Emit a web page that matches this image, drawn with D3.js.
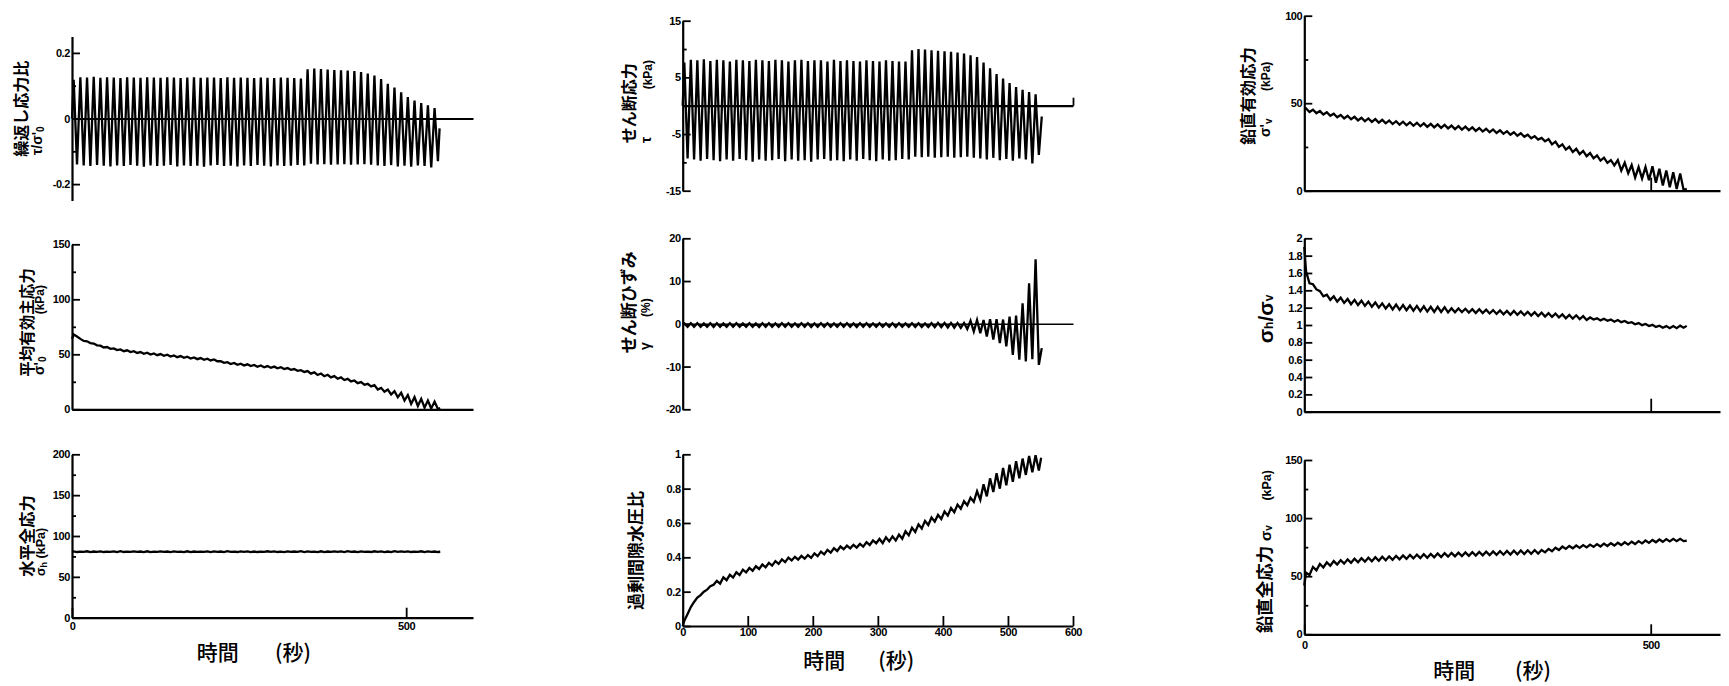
<!DOCTYPE html>
<html lang="ja">
<head>
<meta charset="UTF-8">
<title>繰返し載荷試験 時刻歴</title>
<style>
  body { margin: 0; background: #fff; }
  svg { display: block; background: #fff; }
  .tick text { font-family: "Liberation Sans", Arial, sans-serif; font-size: 11px; font-weight: bold; fill: #000; letter-spacing: -0.4px; }
  .ttl { font-family: "Liberation Sans", "Noto Sans CJK JP", sans-serif; font-weight: bold; fill: #000; }
  .xttl { font-family: "Noto Sans CJK JP", sans-serif; font-weight: 500; fill: #000; font-size: 21px; }
</style>
</head>
<body>
<svg width="1729" height="686"></svg>
<script src="https://d3js.org/d3.v7.min.js"></script>
<script>
// time of stress peak / trough in each load cycle (s)
const peakTime = [2.5,12.5,22.5,32.5,42.5,52.5,62.5,72.5,82.5,92.5,102.5,112.5,122.5,132.5,142.5,152.5,162.5,172.5,182.5,192.5,202.5,212.5,222.5,232.5,242.5,252.5,262.5,272.5,282.5,292.5,302.5,312.5,322.5,332.5,342.5,352.5,362.5,372.5,382.5,392.5,402.5,412.5,422.5,432.5,442.5,452.5,462.5,472.5,482.5,492.5,502.5,512.5,522.5,532.5,542.5];
const troughTime = [7.5,17.5,27.5,37.5,47.5,57.5,67.5,77.5,87.5,97.5,107.5,117.5,127.5,137.5,147.5,157.5,167.5,177.5,187.5,197.5,207.5,217.5,227.5,237.5,247.5,257.5,267.5,277.5,287.5,297.5,307.5,317.5,327.5,337.5,347.5,357.5,367.5,377.5,387.5,397.5,407.5,417.5,427.5,437.5,447.5,457.5,467.5,477.5,487.5,497.5,507.5,517.5,527.5,537.5,547.5];

// 繰返し応力比 τ/σ'0
const ratioStart = [0, 0], ratioEnd = [550, -0.03];
const ratioPk = [0.118,0.126,0.125,0.127,0.124,0.126,0.125,0.123,0.126,0.125,0.124,0.126,0.125,0.124,0.126,0.125,0.123,0.125,0.126,0.124,0.125,0.125,0.123,0.126,0.124,0.125,0.124,0.123,0.125,0.124,0.123,0.125,0.124,0.123,0.122,
  0.15,0.152,0.151,0.149,0.148,0.147,0.146,0.145,0.142,0.137,
  0.131,0.12,0.106,0.094,0.08,0.065,0.055,0.047,0.04,0.032];
const ratioTr = [-0.14,-0.143,-0.145,-0.142,-0.144,-0.146,-0.143,-0.145,-0.142,-0.144,-0.147,-0.143,-0.145,-0.144,-0.142,-0.146,-0.143,-0.145,-0.144,-0.147,-0.143,-0.142,-0.145,-0.144,-0.146,-0.143,-0.145,-0.142,-0.144,-0.146,-0.143,-0.145,-0.144,-0.142,-0.143,
  -0.138,-0.14,-0.139,-0.141,-0.14,-0.139,-0.141,-0.14,-0.139,-0.141,
  -0.143,-0.145,-0.142,-0.146,-0.144,-0.147,-0.143,-0.145,-0.149,-0.13];

// せん断応力 τ (kPa)
const tauStart = [0, 0], tauEnd = [552, -1.9];
const tauPk = [7.6,8.1,8.0,8.2,7.9,8.1,8.0,7.8,8.1,8.0,7.9,8.1,8.0,7.9,8.1,8.0,7.8,8.0,8.1,7.9,8.0,8.0,7.8,8.1,7.9,8.0,7.9,7.8,8.0,7.9,7.8,8.0,7.9,7.8,7.8,
  9.8,10.0,9.9,9.8,9.7,9.6,9.5,9.4,9.2,8.9,
  8.6,7.6,6.6,5.6,4.8,4.0,3.3,2.8,2.4,2.0];
const tauTr = [-9.3,-9.5,-9.7,-9.4,-9.6,-9.8,-9.5,-9.7,-9.4,-9.6,-9.9,-9.5,-9.7,-9.6,-9.4,-9.8,-9.5,-9.7,-9.6,-9.9,-9.5,-9.4,-9.7,-9.6,-9.8,-9.5,-9.7,-9.4,-9.6,-9.8,-9.5,-9.7,-9.6,-9.4,-9.5,
  -9.0,-9.1,-9.0,-9.2,-9.1,-9.0,-9.2,-9.1,-9.0,-9.2,
  -9.3,-9.5,-9.2,-9.6,-9.4,-9.7,-9.3,-9.5,-10.2,-8.7];

// 鉛直有効応力 σ'v (kPa)
const svEffStart = [0, 46.5], svEffEnd = [552, 1.0];
const svEffPk = [47,46.3,45.5,44.8,44,43.3,42.8,42.2,41.7,41.3,40.9,40.5,40.1,39.7,39.4,39.1,38.8,38.5,38.2,37.9,37.6,37.2,36.9,36.6,36.2,35.8,35.4,35,34.5,34,33.4,32.8,32,31.2,30.2,
  29.5,28,26.5,25.1,23.9,22.7,21.5,20.2,18.9,17.5,
  17.5,16,14.7,13.5,13.5,14,12.5,11.5,10.5,9.8];
const svEffTr = [45,44.3,43.5,42.8,42,41.3,40.8,40.2,39.7,39.3,38.9,38.5,38.1,37.7,37.4,37.1,36.8,36.5,36.2,35.9,35.6,35.2,34.9,34.6,34.2,33.8,33.4,33,32.5,32,31.4,30.8,30,29.2,28.2,
  26.5,25,23.5,22.1,20.9,19.7,18.5,17.2,15.9,14.5,
  11.5,10,7.5,7,6,4.5,3,2,1,0.4];

// 平均有効主応力 σ'0 (kPa)
const s0Start = [0, 64], s0End = [551, 1];
const s0Pk = [68,64,61.8,59.8,57.8,56.6,55.4,54.4,53.6,52.8,52,51.4,50.8,50.2,49.6,49,48.4,47.8,47.2,46.6,46,45.3,43.8,42.8,42.1,41.5,40.9,40.3,39.8,39.3,38.8,38.2,37.5,36.6,35.6,
  34.8,33.6,32.5,31.4,30.2,29,27.7,26.2,24.7,23.2,
  22,19.5,18,16.5,15,13,11,9.5,8,7];
const s0Tr = [66.2,62.2,60.2,58.2,56.2,55,53.8,52.8,52,51.2,50.4,49.8,49.2,48.6,48,47.4,46.8,46.2,45.6,45,44.4,43.7,42.2,41.2,40.5,39.9,39.3,38.7,38.2,37.7,37.2,36.6,35.9,35,34,
  32.4,31.2,30.1,29,27.8,26.6,25.3,23.8,22.3,20.8,
  18,16,13.5,11,8,5,3,1.5,0.8,0.3];

// せん断ひずみ γ (%)
const gammaStart = [0, 0], gammaEnd = [552, -5.7];
const gammaPk = [0.1,0.15,0.15,0.1,0.15,0.15,0.1,0.15,0.15,0.1,0.15,0.1,0.15,0.15,0.1,0.15,0.15,0.1,0.15,0.15,0.1,0.15,0.15,0.1,0.15,0.15,0.1,0.15,0.15,0.1,0.15,0.1,0.15,0.15,0.1,0.15,0.15,0.1,0.15,
  0.2,0.2,0.2,0.2,
  0.2,0.7,0.9,0.9,1.1,1.1,1.0,1.7,1.9,4.8,9.5,15.1];
const gammaTr = [-0.7,-0.72,-0.68,-0.7,-0.74,-0.7,-0.69,-0.72,-0.7,-0.71,-0.7,-0.73,-0.69,-0.7,-0.72,-0.7,-0.68,-0.71,-0.7,-0.73,-0.7,-0.69,-0.72,-0.7,-0.71,-0.7,-0.74,-0.7,-0.69,-0.72,-0.7,-0.71,-0.73,-0.7,-0.72,-0.74,-0.75,-0.76,-0.78,
  -0.8,-0.85,-0.9,-0.95,
  -1.2,-1.8,-2.2,-3.0,-3.7,-4.5,-5.3,-7.3,-8.4,-8.8,-8.3,-9.6];

// σh/σv
const khStart = [0, 1.9], khEnd = [552, 0.99];
const khPk = [1.62,1.47,1.39,1.35,1.33,1.315,1.3,1.29,1.28,1.27,1.26,1.25,1.24,1.235,1.23,1.225,1.22,1.215,1.21,1.21,1.205,
  1.192,1.192,1.187,1.182,1.182,1.177,1.172,1.167,1.162,1.162,1.157,1.152,1.147,1.142,1.137,1.132,1.122,1.117,1.112,1.102,
  1.087,1.077,1.072,1.062,1.057,1.047,1.032,1.022,1.012,1.002,0.992,0.987,0.987,0.992];
const khTr = [1.48,1.41,1.33,1.29,1.27,1.255,1.24,1.23,1.22,1.21,1.2,1.19,1.18,1.175,1.17,1.165,1.16,1.155,1.15,1.15,1.145,
  1.148,1.148,1.143,1.138,1.138,1.133,1.128,1.123,1.118,1.118,1.113,1.108,1.103,1.098,1.093,1.088,1.078,1.073,1.068,1.058,
  1.063,1.053,1.048,1.038,1.033,1.023,1.008,0.998,0.988,0.978,0.968,0.963,0.963,0.968];

// 水平全応力 σh (kPa)
const shStart = [0, 80.6], shEnd = [551, 80.7];
const shPk = [81.1,80.9,81.3,81.0,81.2,80.8,81.1,81.4,80.9,81.1,81.0,81.3,80.9,81.2,81.0,81.1,80.8,81.3,81.0,80.9,81.2,81.1,81.0,81.4,80.9,81.1,81.2,81.0,80.8,81.3,81.1,80.9,81.2,81.0,81.4,81.1,80.9,81.3,81.0,81.2,81.1,81.4,81.0,81.2,80.9,81.3,81.1,81.0,81.4,81.1,81.2,80.9,81.3,81.1,81.0];
const shTr = [80.4,80.5,80.3,80.6,80.4,80.5,80.3,80.4,80.6,80.5,80.4,80.3,80.5,80.6,80.4,80.5,80.3,80.4,80.6,80.5,80.4,80.5,80.3,80.6,80.4,80.5,80.3,80.4,80.6,80.5,80.4,80.3,80.5,80.6,80.4,80.5,80.3,80.4,80.6,80.5,80.4,80.5,80.3,80.6,80.4,80.5,80.3,80.4,80.6,80.5,80.4,80.5,80.3,80.6,80.4];

// 過剰間隙水圧比
const ppStart = [0, 0], ppEnd = [551, 0.98];
const ppPk = [0.03,0.11,0.165,0.2,0.232,0.263,0.283,0.298,0.313,0.328,0.338,0.348,0.358,0.368,0.378,0.388,0.398,0.403,0.408,0.413,0.423,0.433,0.443,0.453,0.463,0.468,0.473,0.478,0.488,0.498,
  0.507,0.517,0.522,0.532,0.552,0.572,0.592,0.612,0.632,0.647,0.667,0.687,0.707,0.727,0.747,
  0.785,0.825,0.86,0.89,0.92,0.94,0.96,0.975,0.99,0.995];
const ppTr = [0.07,0.14,0.18,0.212,0.24,0.247,0.267,0.282,0.297,0.312,0.322,0.332,0.342,0.352,0.362,0.372,0.382,0.387,0.392,0.397,0.407,0.417,0.427,0.437,0.447,0.452,0.457,0.462,0.472,0.482,
  0.483,0.493,0.498,0.508,0.528,0.548,0.568,0.588,0.608,0.623,0.643,0.663,0.683,0.703,0.723,
  0.735,0.755,0.78,0.8,0.82,0.84,0.86,0.88,0.895,0.905];

// 鉛直全応力 σv (kPa)
const svStart = [0, 42], svEnd = [552, 80.5];
const svPk = [53,58,60.5,62,63,63.8,64.5,65,65.5,65.9,66.3,66.7,67.1,67.5,67.9,68.3,68.6,68.9,69.2,69.5,69.8,70.1,70.3,70.5,70.7,70.9,71.1,71.3,71.5,71.7,71.9,72.1,72.3,72.5,72.5,73.5,74.5,75.5,76,76.4,76.8,77.2,77.6,78,78.4,78.8,79.2,79.7,80.2,80.7,81.2,81.6,81.9,82.1,82.2];
const svTr = [51,55,57.5,59,60,60.8,61.5,62,62.5,62.9,63.3,63.7,64.1,64.5,64.9,65.3,65.6,65.9,66.2,66.5,66.8,67.1,67.3,67.5,67.7,67.9,68.1,68.3,68.5,68.7,68.9,69.1,69.3,69.5,70.5,71.5,72.5,73.5,74,74.4,74.8,75.2,75.6,76,76.4,76.8,77.2,77.7,78.2,78.7,79.2,79.6,79.9,80.1,80.2];

// tick values
const timeDomain = [0, 600];
const ticksRatio = [-0.2, 0, 0.2], minorRatio = [-0.1, 0.1];
const ticksTau = [-15, -5, 5, 15], minorTau = [-10, 10];
const ticksSvEff = [0, 50, 100], minorSvEff = [25, 75];
const ticksS0 = [0, 50, 100, 150], minorS0 = [25, 75, 125];
const ticksGamma = [-20, -10, 0, 10, 20];
const ticksKh = [0, 0.2, 0.4, 0.6, 0.8, 1, 1.2, 1.4, 1.6, 1.8, 2];
const ticksSh = [0, 50, 100, 150, 200], minorSh = [25, 75, 125, 175];
const ticksPp = [0, 0.2, 0.4, 0.6, 0.8, 1];
const ticksSv = [0, 50, 100, 150], minorSv = [25, 75, 125];
const timeTicksFull = [0, 100, 200, 300, 400, 500, 600];
const timeTicksShort = [0, 500];

const svg = d3.select("svg");

const panels = [
  { s: [ratioStart, ratioPk, ratioTr, ratioEnd], x: [72, 473], y: [200.5, 36.5], dom: [-0.25, 0.25], major: ticksRatio, minor: minorRatio, xt: [], xlab: false },
  { s: [tauStart, tauPk, tauTr, tauEnd], x: [682.7, 1073], y: [190.7, 20.7], dom: [-15, 15], major: ticksTau, minor: minorTau, xt: [600], xtLen: 8, xlab: false },
  { s: [svEffStart, svEffPk, svEffTr, svEffEnd], x: [1304.3, 1720], y: [190.7, 15.7], dom: [0, 100], major: ticksSvEff, minor: minorSvEff, xt: [500], xtLen: 13, xlab: false },
  { s: [s0Start, s0Pk, s0Tr, s0End], x: [72, 473], y: [409.3, 244.3], dom: [0, 150], major: ticksS0, minor: minorS0, xt: [], xlab: false },
  { s: [gammaStart, gammaPk, gammaTr, gammaEnd], x: [682.7, 1073], y: [409.3, 238.3], dom: [-20, 20], major: ticksGamma, minor: [], xt: [], xlab: false, xw: 1.5 },
  { s: [khStart, khPk, khTr, khEnd], x: [1304.3, 1720], y: [411.7, 238.3], dom: [0, 2], major: ticksKh, minor: [], xt: [500], xtLen: 13, xlab: false },
  { s: [shStart, shPk, shTr, shEnd], x: [72, 473], y: [617.7, 454.3], dom: [0, 200], major: ticksSh, minor: minorSh, xt: timeTicksShort, xtLen: 10, xlab: true, xpad: 5 },
  { s: [ppStart, ppPk, ppTr, ppEnd], x: [682.7, 1073], y: [626, 454.3], dom: [0, 1], major: ticksPp, minor: [], xt: timeTicksFull, xtLen: 10, xlab: true, xpad: 2 },
  { s: [svStart, svPk, svTr, svEnd], x: [1304.3, 1720], y: [634.3, 460], dom: [0, 150], major: ticksSv, minor: minorSv, xt: timeTicksShort, xtLen: 10, xlab: true, xpad: 7 }
];

function seriesPoints(start, pk, tr, end) {
  const pts = [start];
  pk.forEach((v, i) => {
    pts.push([peakTime[i], v]);
    pts.push([troughTime[i], tr[i]]);
  });
  pts.push(end);
  return pts;
}

panels.forEach(p => {
  const x = d3.scaleLinear().domain(timeDomain).range(p.x);
  const y = d3.scaleLinear().domain(p.dom).range(p.y);
  const g = svg.append("g");

  const line = d3.line().x(d => x(d[0])).y(d => y(d[1]));
  g.append("path")
    .datum(seriesPoints(...p.s))
    .attr("d", line)
    .attr("fill", "none")
    .attr("stroke", "#000")
    .attr("stroke-width", 2.3);

  // x axis along y = 0
  const xa = g.append("g")
    .attr("transform", `translate(0,${y(0)})`)
    .call(d3.axisBottom(x).tickValues(p.xt).tickSizeInner(-(p.xtLen || 10)).tickSizeOuter(0)
      .tickPadding(p.xpad || 3).tickFormat(p.xlab ? d => String(d) : ""));
  xa.select(".domain").attr("stroke-width", p.xw || 2.2);
  xa.selectAll(".tick line").attr("stroke-width", 1.8);

  // y axis with inward ticks
  const ya = g.append("g")
    .attr("transform", `translate(${p.x[0]},0)`)
    .call(d3.axisLeft(y).tickValues(p.major).tickSizeInner(-8).tickSizeOuter(0)
      .tickPadding(2).tickFormat(d => String(d)));
  ya.select(".domain").attr("stroke-width", 2.2);
  ya.selectAll(".tick line").attr("stroke-width", 1.8);

  if (p.minor.length) {
    const ym = g.append("g")
      .attr("transform", `translate(${p.x[0]},0)`)
      .call(d3.axisLeft(y).tickValues(p.minor).tickSizeInner(-4).tickSizeOuter(0).tickFormat(""));
    ym.select(".domain").remove();
    ym.selectAll(".tick line").attr("stroke-width", 1.8);
  }
});

// rotated axis titles: [x, y, anchor, font size, parts[[text, size, dy]]]
const yTitles = [
  [20.8, 156.7, "start", 16, [["繰返し応力比"]]],
  [36.5, 155, "start", 14, [["τ/σ'"], ["0", 10, 3]]],
  [629, 143.3, "start", 16, [["せん断応力"]]],
  [646, 143, "start", 14, [["τ"]]],
  [648, 60, "end", 12, [["(kPa)"]]],
  [1247.5, 145, "start", 16.3, [["鉛直有効応力"]]],
  [1265, 137, "start", 14, [["σ'"], ["v", 10, 3]]],
  [1266, 61.7, "end", 12, [["(kPa)"]]],
  [26.7, 376.7, "start", 15.5, [["平均有効主応力"]]],
  [38.5, 375, "start", 14, [["σ'"], ["0", 10, 3]]],
  [39.5, 285, "end", 12, [["(kPa)"]]],
  [629, 353.3, "start", 17, [["せん断ひずみ"]]],
  [645, 350, "start", 14, [["γ"]]],
  [646, 298.3, "end", 12, [["(%)"]]],
  [1265, 343.3, "start", 21, [["σ"], ["h", 12, 4], ["/", 21, -4], ["σ"], ["v", 12, 4]]],
  [26.7, 576.7, "start", 16.3, [["水平全応力"]]],
  [40.5, 576, "start", 12.5, [["σ"], ["h", 9, 3], [" (kPa)", 12.5, -3]]],
  [635.8, 610, "start", 17, [["過剰間隙水圧比"]]],
  [1265, 633.3, "start", 17.5, [["鉛直全応力"]]],
  [1265, 541, "start", 15, [["σ"], ["v", 10, 3]]],
  [1267, 470, "end", 12.5, [["(kPa)"]]]
];

yTitles.forEach(([tx, ty, anchor, size, parts]) => {
  const t = svg.append("text")
    .attr("class", "ttl")
    .attr("transform", `translate(${tx},${ty}) rotate(-90)`)
    .attr("text-anchor", anchor)
    .attr("dominant-baseline", "central")
    .attr("font-size", size);
  parts.forEach(([s, fs, dy]) => {
    t.append("tspan").text(s)
      .attr("font-size", fs || null)
      .attr("dy", dy || null);
  });
});

// time axis titles: [x of 時間, x of (秒), baseline]
const xTitles = [
  [196.7, 275, 660],
  [803.3, 878.3, 668],
  [1433.3, 1515, 678]
];
xTitles.forEach(([x1, x2, by]) => {
  svg.append("text").attr("class", "xttl").attr("x", x1).attr("y", by).text("時間");
  svg.append("text").attr("class", "xttl").attr("x", x2).attr("y", by).text("(秒)");
});
</script>
</body>
</html>
